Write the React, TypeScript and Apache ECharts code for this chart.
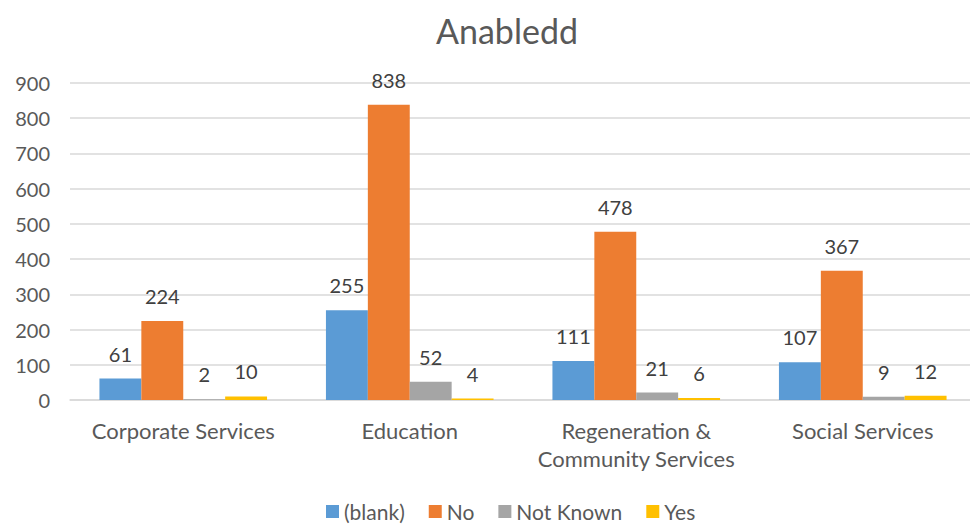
import React, { useEffect, useRef } from "react";
import * as echarts from "echarts";

const categories = ["Corporate Services", "Education", "Regeneration &\nCommunity Services", "Social Services"];
const seriesNames = ["(blank)", "No", "Not Known", "Yes"];
const blankValues = [61, 255, 111, 107];
const noValues = [224, 838, 478, 367];
const notKnownValues = [2, 52, 21, 9];
const yesValues = [10, 4, 6, 12];
const colors = ["#5B9BD5", "#ED7D31", "#A5A5A5", "#FFC000"];

export default function App() {
  const ref = useRef<HTMLDivElement>(null);
  useEffect(() => {
    if (!ref.current) return;
    const chart = echarts.init(ref.current, null, { renderer: "svg" });
    const font = "Lato, 'Open Sans', sans-serif";
    const all = [blankValues, noValues, notKnownValues, yesValues];
    chart.setOption({
      animation: false,
      textStyle: { fontFamily: font },
      title: {
        text: "Anabledd",
        left: 494,
        textAlign: "center",
        top: 0,
        textStyle: { fontFamily: font, fontSize: 34, fontWeight: "normal", color: "#595959" },
      },
      legend: {
        top: 488,
        left: 313,
        itemWidth: 13,
        itemHeight: 13,
        itemGap: 24,
        icon: "rect",
        textStyle: { fontFamily: font, fontSize: 21, color: "#595959" },
        data: seriesNames,
      },
      grid: { left: 62, right: 2, top: 75, bottom: 124, containLabel: false },
      xAxis: {
        type: "category",
        data: categories,
        axisLine: { lineStyle: { color: "#D9D9D9", width: 1.5 } },
        axisTick: { show: false },
        axisLabel: { fontFamily: font, fontSize: 22, color: "#595959", margin: 16, lineHeight: 28, interval: 0 },
      },
      yAxis: {
        type: "value",
        min: 0,
        max: 900,
        interval: 100,
        axisLine: { show: false },
        axisTick: { show: false },
        splitLine: { lineStyle: { color: "#D9D9D9", width: 1.5 } },
        axisLabel: { fontFamily: font, fontSize: 20, color: "#595959", margin: 20 },
      },
      series: seriesNames.map((name, i) => ({
        name,
        type: "bar",
        data: all[i],
        itemStyle: { color: colors[i] },
        barGap: "0%",
        barCategoryGap: "26%",
        label: {
          show: true,
          position: "top",
          distance: 15,
          fontFamily: font,
          fontSize: 20,
          color: "#404040",
        },
      })),
    });
    return () => chart.dispose();
  }, []);
  return <div ref={ref} style={{ width: 970, height: 516 }} />;
}
